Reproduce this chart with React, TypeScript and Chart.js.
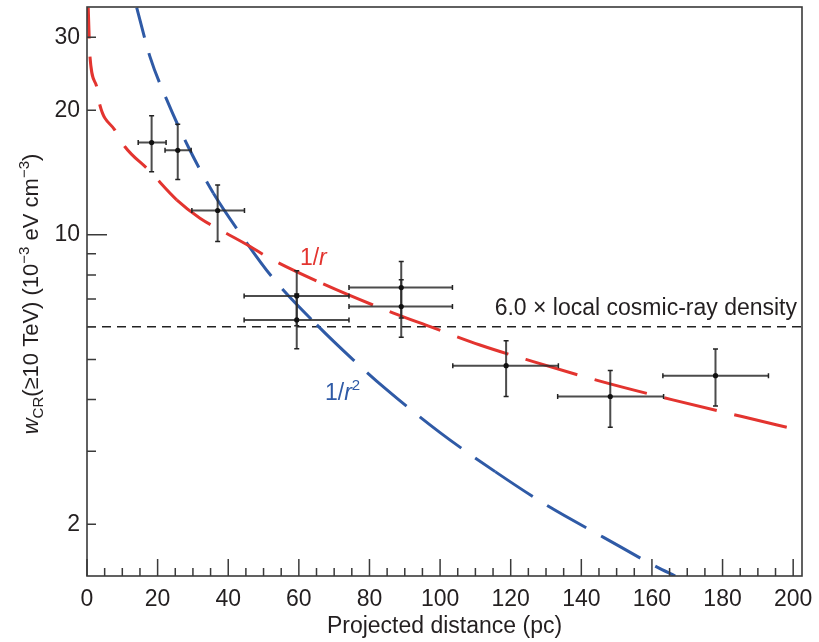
import React, { useEffect, useRef } from "react";
import { Chart, registerables } from "chart.js";

Chart.register(...registerables);

const FONT = '"Liberation Sans", Arial, Helvetica, sans-serif';
const TEXT = "#231f20";
const RED = "#e3342f";
const BLUE = "#2f5aa6";

// Measured cosmic-ray energy density (10^-3 eV cm^-3) vs projected distance (pc)
const distance = [18.3, 25.7, 37.0, 59.4, 59.4, 89.0, 89.0, 118.7, 148.2, 178.0];
const density = [16.7, 16.0, 11.45, 7.12, 6.23, 7.46, 6.71, 4.83, 4.07, 4.57];
const distanceLow = [14.5, 22.1, 29.7, 44.5, 44.5, 74.2, 74.2, 103.6, 133.3, 163.1];
const distanceHigh = [22.4, 29.5, 44.6, 74.2, 74.2, 103.5, 103.5, 133.5, 163.3, 193.0];
const densityLow = [14.2, 13.6, 9.63, 6.03, 5.31, 6.3, 5.66, 4.07, 3.43, 3.86];
const densityHigh = [19.4, 18.5, 13.2, 8.19, 7.2, 8.62, 7.79, 5.55, 4.7, 5.3];

// 1/r profile curve
const invRX = [0.35, 0.85, 2.75, 3.7, 7.9, 10.8, 17.4, 25.4, 32.0, 37.7, 46.2, 51.4, 66.9, 86.8, 97.2, 111.3, 126.4, 145.8, 165.6, 185.5, 200.0];
const invRY = [35.4, 26.9, 22.8, 20.5, 17.9, 16.3, 14.35, 12.15, 10.97, 10.28, 9.37, 8.81, 7.61, 6.47, 6.0, 5.42, 4.94, 4.42, 4.0, 3.64, 3.4];

// 1/r^2 profile curve
const invR2X = [14.08, 17.85, 22.58, 28.7, 35.8, 43.3, 52.3, 65.1, 75.4, 84.7, 100.0, 115.6, 130.7, 146.3, 161.2, 166.6];
const invR2Y = [35.4, 26.9, 21.2, 16.3, 12.6, 10.1, 7.93, 6.06, 4.99, 4.24, 3.33, 2.68, 2.21, 1.86, 1.58, 1.5];

const localLevel = 6.0;
const localLabel = "6.0 \u00d7 local cosmic-ray density";

const xTicks = [0, 20, 40, 60, 80, 100, 120, 140, 160, 180, 200];
const xMinorStep = 5;
const yTicks = [2, 10, 20, 30];
const yMinorTicks = [3, 4, 5, 6, 7, 8, 9];

const X_MIN = 0;
const X_MAX = 202.5;
const Y_MIN = 1.5;
const Y_MAX = 35.5;

// label anchors (data units)
const invRLabelAt = { x: 60.3, y: 8.75 };
const invR2LabelAt = { x: 67.4, y: 4.13 };

function f(size: number, style = "normal") {
  return `${style} ${size}px ${FONT}`;
}

const errorBarPlugin = {
  id: "errorBars",
  beforeDatasetDraw(chart: any, args: any) {
    if (args.index !== 0) return;
    const { ctx } = chart;
    const xs = chart.scales.x;
    const ys = chart.scales.y;
    ctx.save();
    for (let i = 0; i < distance.length; i++) {
      const px = xs.getPixelForValue(distance[i]);
      const py = ys.getPixelForValue(density[i]);
      const xl = xs.getPixelForValue(distanceLow[i]);
      const xh = xs.getPixelForValue(distanceHigh[i]);
      const yl = ys.getPixelForValue(densityLow[i]);
      const yh = ys.getPixelForValue(densityHigh[i]);
      ctx.strokeStyle = "rgba(45,45,45,0.85)";
      ctx.lineWidth = 2;
      ctx.beginPath();
      ctx.moveTo(xl, py);
      ctx.lineTo(xh, py);
      ctx.moveTo(px, yl);
      ctx.lineTo(px, yh);
      ctx.stroke();
      ctx.strokeStyle = "#222";
      ctx.lineWidth = 1.5;
      ctx.beginPath();
      ctx.moveTo(xl, py - 2.5);
      ctx.lineTo(xl, py + 2.5);
      ctx.moveTo(xh, py - 2.5);
      ctx.lineTo(xh, py + 2.5);
      ctx.moveTo(px - 2.5, yl);
      ctx.lineTo(px + 2.5, yl);
      ctx.moveTo(px - 2.5, yh);
      ctx.lineTo(px + 2.5, yh);
      ctx.stroke();
    }
    ctx.restore();
  },
};

function drawPieces(ctx: CanvasRenderingContext2D, pieces: any[], x: number, y: number, align: "left" | "center") {
  let total = 0;
  for (const p of pieces) {
    ctx.font = p.font;
    total += ctx.measureText(p.text).width;
  }
  let cx = align === "center" ? x - total / 2 : x;
  ctx.textAlign = "left";
  for (const p of pieces) {
    ctx.font = p.font;
    ctx.fillText(p.text, cx, y + (p.dy || 0));
    cx += ctx.measureText(p.text).width;
  }
}

const framePlugin = {
  id: "frameAndText",
  afterDraw(chart: any) {
    const { ctx, chartArea } = chart;
    const xs = chart.scales.x;
    const ys = chart.scales.y;
    const { left, right, top, bottom } = chartArea;
    ctx.save();
    // frame
    ctx.strokeStyle = "#3a3a3a";
    ctx.lineWidth = 1.6;
    ctx.strokeRect(left, top, right - left, bottom - top);

    // x ticks (inside)
    ctx.lineWidth = 1.5;
    ctx.beginPath();
    for (let v = X_MIN; v <= 200; v += xMinorStep) {
      const px = xs.getPixelForValue(v);
      const major = xTicks.includes(v);
      ctx.moveTo(px, bottom);
      ctx.lineTo(px, bottom - (major ? 17 : 8));
    }
    // y ticks (inside)
    for (const v of yTicks) {
      const py = ys.getPixelForValue(v);
      ctx.moveTo(left, py);
      ctx.lineTo(left + (v === 10 ? 20 : 9), py);
    }
    for (const v of yMinorTicks) {
      const py = ys.getPixelForValue(v);
      ctx.moveTo(left, py);
      ctx.lineTo(left + 9, py);
    }
    ctx.stroke();

    ctx.fillStyle = TEXT;

    // x title
    ctx.font = f(23);
    ctx.textAlign = "center";
    ctx.textBaseline = "middle";
    ctx.fillText("Projected distance (pc)", (left + right) / 2, 627);

    // y title (rotated)
    ctx.save();
    ctx.translate(38, 294);
    ctx.rotate(-Math.PI / 2);
    ctx.textBaseline = "alphabetic";
    drawPieces(
      ctx,
      [
        { text: "w", font: f(22, "italic") },
        { text: "CR", font: f(15), dy: 5 },
        { text: "(\u226510 TeV) (10", font: f(22) },
        { text: "\u22123", font: f(15), dy: -9 },
        { text: " eV cm", font: f(22) },
        { text: "\u22123", font: f(15), dy: -9 },
        { text: ")", font: f(22) },
      ],
      0,
      0,
      "center"
    );
    ctx.restore();

    // local density label
    ctx.font = f(23);
    ctx.textAlign = "right";
    ctx.textBaseline = "middle";
    ctx.fillText(localLabel, right - 5, ys.getPixelForValue(localLevel) - 18);

    // curve labels
    ctx.textBaseline = "middle";
    ctx.fillStyle = RED;
    drawPieces(
      ctx,
      [
        { text: "1/", font: f(23) },
        { text: "r", font: f(23, "italic") },
      ],
      xs.getPixelForValue(invRLabelAt.x),
      ys.getPixelForValue(invRLabelAt.y),
      "left"
    );
    ctx.fillStyle = BLUE;
    drawPieces(
      ctx,
      [
        { text: "1/", font: f(23) },
        { text: "r", font: f(23, "italic") },
        { text: "2", font: f(15), dy: -8 },
      ],
      xs.getPixelForValue(invR2LabelAt.x),
      ys.getPixelForValue(invR2LabelAt.y),
      "left"
    );
    ctx.restore();
  },
};

export default function App() {
  const ref = useRef<HTMLCanvasElement | null>(null);
  useEffect(() => {
    if (!ref.current) return;
    const redDash = (c: any) => {
      const x0 = c.p0.parsed.x;
      if (x0 < 20) return [31, 18];
      if (x0 < 60) return [42, 18];
      return [54, 18];
    };
    const blueDash = (c: any) => {
      const x0 = c.p0.parsed.x;
      if (x0 < 30) return [31, 16];
      if (x0 < 60) return [42, 17];
      if (x0 < 110) return [52, 17];
      return [45, 17];
    };
    const chart = new Chart(ref.current, {
      type: "line",
      data: {
        datasets: [
          {
            label: "data",
            data: distance.map((d, i) => ({ x: d, y: density[i] })),
            showLine: false,
            pointRadius: 2.6,
            pointBackgroundColor: "#111",
            pointBorderWidth: 0,
          } as any,
          {
            label: "1/r",
            data: invRX.map((d, i) => ({ x: d, y: invRY[i] })),
            borderColor: RED,
            borderWidth: 3,
            pointRadius: 0,
            cubicInterpolationMode: "monotone",
            segment: { borderDash: redDash },
          },
          {
            label: "1/r2",
            data: invR2X.map((d, i) => ({ x: d, y: invR2Y[i] })),
            borderColor: BLUE,
            borderWidth: 3,
            pointRadius: 0,
            cubicInterpolationMode: "monotone",
            segment: { borderDash: blueDash },
          },
          {
            label: "local",
            data: [
              { x: X_MIN, y: localLevel },
              { x: X_MAX, y: localLevel },
            ],
            borderColor: "#222",
            borderWidth: 1.4,
            borderDash: [9, 6],
            pointRadius: 0,
          },
        ],
      },
      options: {
        animation: false,
        responsive: false,
        maintainAspectRatio: false,
        layout: { padding: { top: 7, right: 17, left: 0, bottom: 0 } },
        plugins: { legend: { display: false }, tooltip: { enabled: false } },
        scales: {
          x: {
            type: "linear",
            min: X_MIN,
            max: X_MAX,
            afterBuildTicks: (s: any) => {
              s.ticks = xTicks.map((v) => ({ value: v }));
            },
            afterFit: (s: any) => {
              s.height = 66;
              s.paddingLeft = 0;
              s.paddingRight = 0;
            },
            grid: { display: false, drawTicks: false },
            border: { display: false },
            ticks: {
              autoSkip: false,
              maxRotation: 0,
              padding: 10,
              color: TEXT,
              font: { family: FONT, size: 23 },
              callback: (v: any) => String(v),
            },
          },
          y: {
            type: "logarithmic",
            min: Y_MIN,
            max: Y_MAX,
            afterBuildTicks: (s: any) => {
              s.ticks = yTicks.map((v) => ({ value: v }));
            },
            afterFit: (s: any) => {
              s.width = 87;
              s.paddingTop = 0;
              s.paddingBottom = 0;
            },
            grid: { display: false, drawTicks: false },
            border: { display: false },
            ticks: {
              autoSkip: false,
              padding: 7,
              color: TEXT,
              font: { family: FONT, size: 23 },
              callback: (v: any) => String(v),
            },
          },
        },
      },
      plugins: [errorBarPlugin, framePlugin],
    } as any);
    return () => chart.destroy();
  }, []);
  return (
    <div style={{ position: "absolute", left: 0, top: 0, width: 819, height: 642, background: "#fff" }}>
      <canvas ref={ref} width={819} height={642} style={{ width: 819, height: 642, display: "block" }} />
    </div>
  );
}
